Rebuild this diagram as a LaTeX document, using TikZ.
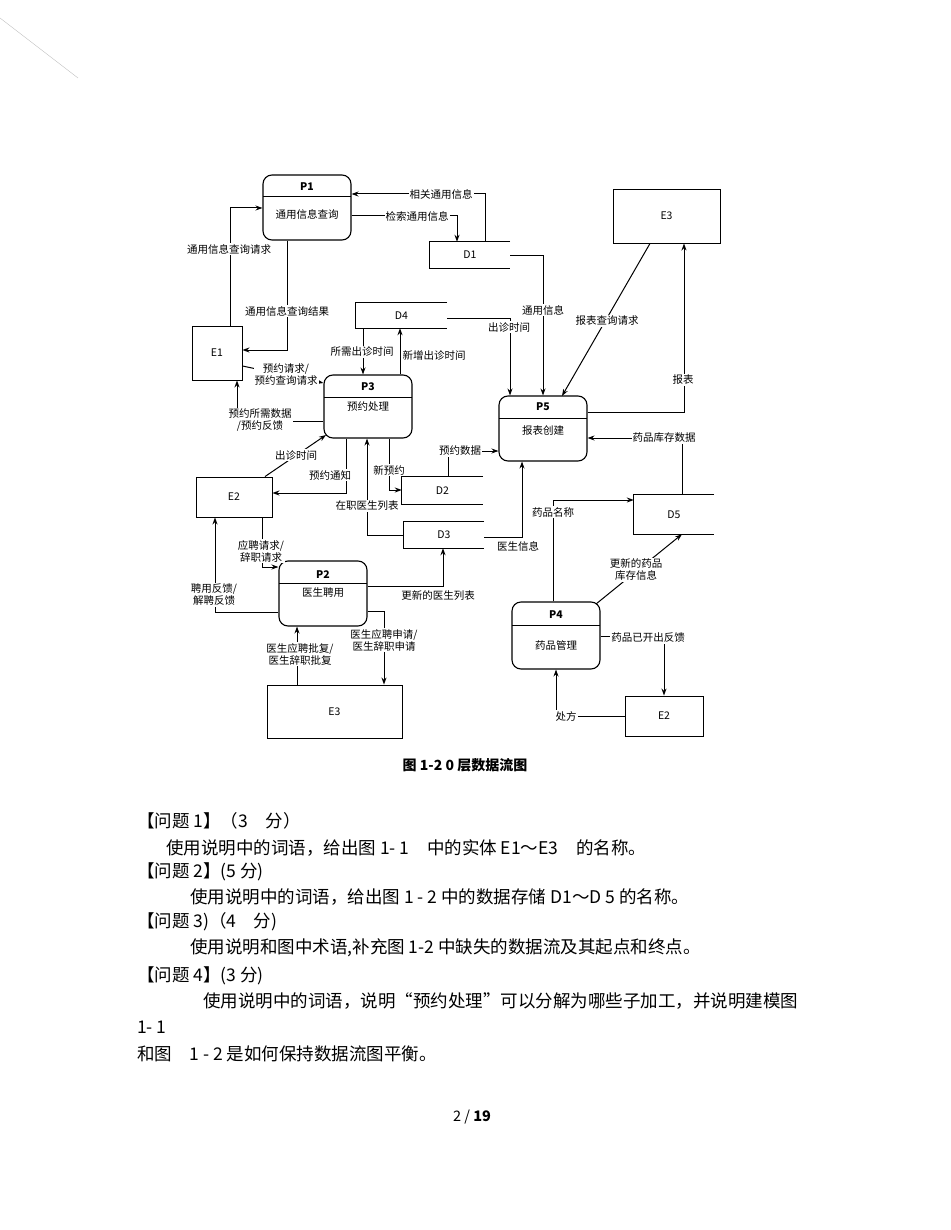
\documentclass[tikz,border=0pt]{standalone}
\usepackage{fontspec}
\setmainfont{Noto Sans CJK SC}
\usetikzlibrary{arrows.meta}
\begin{document}
\begin{tikzpicture}[x=1pt,y=-1pt,
  every node/.style={font=\fontsize{10.5}{12}\selectfont},
  ln/.style={line width=1pt},
  ar/.style={ln,-{Stealth[length=7pt,width=5pt]}},
  proc/.style={draw,line width=1.1pt,rounded corners=9pt,inner sep=0pt},
  ent/.style={draw,line width=0.9pt,inner sep=0pt},
  store/.style={inner sep=0pt},
  lab/.style={fill=white,inner sep=1pt,align=center},
  txt/.style={anchor=west,inner sep=0pt,font=\fontsize{17.5}{19}\selectfont}]
\useasboundingbox (0,0) rectangle (950,1230);
\draw[gray!50,line width=0.4pt] (0,18) -- (78,78);
% processes
\node[proc,minimum width=88,minimum height=65] (P1) at (307,207.5) {};
\draw[ln] (263,197) -- (351,197);
\node (P1t) at (307,187) {\textbf{P1}}; \node (P1n) at (307,214) {通用信息查询};
\node[proc,minimum width=88,minimum height=63] (P3) at (368,406.5) {};
\draw[ln] (324,397) -- (412,397);
\node (P3t) at (368,387) {\textbf{P3}}; \node (P3n) at (368,407) {预约处理};
\node[proc,minimum width=88,minimum height=65] (P5) at (543,428.5) {};
\draw[ln] (499,418) -- (587,418);
\node (P5t) at (543,407) {\textbf{P5}}; \node (P5n) at (543,431) {报表创建};
\node[proc,minimum width=88,minimum height=65] (P2) at (323,593.5) {};
\draw[ln] (279,583) -- (367,583);
\node (P2t) at (323,575) {\textbf{P2}}; \node (P2n) at (323,593) {医生聘用};
\node[proc,minimum width=88,minimum height=67] (P4) at (556,635.5) {};
\draw[ln] (512,625) -- (600,625);
\node (P4t) at (556,615) {\textbf{P4}}; \node (P4n) at (556,645) {药品管理};
% entities
\node[ent,minimum width=50,minimum height=54] (E1) at (217,353) {E1};
\node[ent,minimum width=107,minimum height=54] (E3a) at (666.5,216) {E3};
\node[ent,minimum width=76,minimum height=40] (E2a) at (234,497) {E2};
\node[ent,minimum width=135,minimum height=53] (E3b) at (334.5,711.5) {E3};
\node[ent,minimum width=78,minimum height=40] (E2b) at (664,716) {E2};
% stores
\foreach \n/\cx/\cy/\w/\h in {D1/470/255/80/26,D4/401.5/315.5/91/25,D2/442.5/490.5/81/27,D3/444/535/80/26,D5/674/514.5/80/39}{
  \node[store,minimum width=\w,minimum height=\h] (\n) at (\cx,\cy) {\n};
  \draw[ln] (\n.north east) -- (\n.north west) -- (\n.south west) -- (\n.south east);
}
% flows
\draw[ar] (E1.north -| 230,0) |- (P1.west |- 0,208);
\draw[ar] (P1.south -| 287,0) |- (E1.east |- 0,350);
\draw[ar] (D1.north -| 485,0) |- (P1.east |- 0,194);
\draw[ar] (P1.east |- 0,216) -| (D1.north -| 457,0);
\draw[ar] (D1.east |- 0,256) -| (P5.north -| 543,0);
\draw[ar] (D4.east |- 0,318) -| (P5.north -| 510,0);
\draw[ar] (D4.south -| 363,0) -- (P3.north -| 363,0);
\draw[ar] (P3.north -| 400,0) -- (D4.south -| 400,0);
\draw[ar] (E1.east |- 0,366) -- (P3.west |- 0,383);
\draw[ar] (P3.west |- 0,421) -| (E1.south -| 237,0);
\draw[ar] (E2a.north -| 265,0) -- (326,435);
\draw[ar] (P3.south -| 346,0) |- (E2a.east |- 0,493);
\draw[ar] (P3.south -| 389,0) |- (D2.west |- 0,490);
\draw[ar] (D3.west |- 0,535) -| (P3.south -| 367,0);
\draw[ar] (D2.north -| 448,0) |- (P5.west |- 0,451);
\draw[ar] (D3.east |- 0,537) -| (P5.south -| 522,0);
\draw[ar] (E2a.south -| 262,0) |- (P2.west |- 0,567);
\draw[ar] (P2.west |- 0,612) -| (E2a.south -| 215,0);
\draw[ar] (P2.east |- 0,586) -| (D3.south -| 443,0);
\draw[ar] (P2.east |- 0,611) -| (E3b.north -| 384,0);
\draw[ar] (E3b.north -| 297,0) -- (P2.south -| 297,0);
\draw[ar] (E3a.south -| 650,0) -- (562,396);
\draw[ar] (P5.east |- 0,412) -| (E3a.south -| 684,0);
\draw[ar] (D5.north -| 682,0) |- (P5.east |- 0,438);
\draw[ar] (P4.north -| 553,0) |- (D5.west |- 0,500);
\draw[ar] (596,604) -- (D5.south -| 682,0);
\draw[ar] (P4.east |- 0,636) -| (E2b.north -| 664,0);
\draw[ar] (E2b.west |- 0,716) -| (P4.south -| 556,0);
% labels
\node[lab] (l1) at (229,249) {通用信息查询请求};
\node[lab] (l2) at (287,311) {通用信息查询结果};
\node[lab] (l3) at (441,194) {相关通用信息};
\node[lab] (l4) at (417,216) {检索通用信息};
\node[lab] (l5) at (543,310) {通用信息};
\node[lab] (l6) at (509,327) {出诊时间};
\node[lab] (l7) at (362,352) {所需出诊时间};
\node[lab] (l8) at (434,355) {新增出诊时间};
\node[lab] (l9) at (286,375) {预约请求/\\预约查询请求};
\node[lab] (l10) at (260,420) {预约所需数据\\/预约反馈};
\node[lab] (l11) at (296,455) {出诊时间};
\node[lab] (l12) at (330,475) {预约通知};
\node[lab] (l13) at (389,470) {新预约};
\node[lab] (l14) at (367,506) {在职医生列表};
\node[lab] (l15) at (460,451) {预约数据};
\node[lab] (l16) at (518,546) {医生信息};
\node[lab] (l17) at (261,551) {应聘请求/\\辞职请求};
\node[lab] (l18) at (214,595) {聘用反馈/\\解聘反馈};
\node[lab] (l19) at (438,596) {更新的医生列表};
\node[lab] (l20) at (384,640) {医生应聘申请/\\医生辞职申请};
\node[lab] (l21) at (300,654) {医生应聘批复/\\医生辞职批复};
\node[lab] (l22) at (607,321) {报表查询请求};
\node[lab] (l23) at (683,380) {报表};
\node[lab] (l24) at (664,438) {药品库存数据};
\node[lab] (l25) at (553,512) {药品名称};
\node[lab] (l26) at (636,570) {更新的药品\\库存信息};
\node[lab] (l27) at (648,638) {药品已开出反馈};
\node[lab] (l28) at (566,716) {处方};
\node[font=\fontsize{14}{16}\selectfont] (cap) at (465,765) {\textbf{图 1-2 0 层数据流图}};
% questions
\node[txt] (q1) at (137,821) {【问题 1】（3\quad 分）};
\node[txt] (q1a) at (166,848) {使用说明中的词语，给出图 1- 1\quad 中的实体 E1～E3\quad 的名称。};
\node[txt] (q2) at (137,872) {【问题 2】(5 分)};
\node[txt] (q2a) at (190,897) {使用说明中的词语，给出图 1 - 2 中的数据存储 D1～D 5 的名称。};
\node[txt] (q3) at (137,922) {【问题 3)（4\quad 分)};
\node[txt] (q3a) at (190,948) {使用说明和图中术语,补充图 1-2 中缺失的数据流及其起点和终点。};
\node[txt] (q4) at (137,976) {【问题 4】(3 分)};
\node[txt] (q4a) at (203,1001) {使用说明中的词语，说明“预约处理”可以分解为哪些子加工，并说明建模图};
\node[txt] (q4b) at (137,1027) {1- 1};
\node[txt] (q4c) at (137,1054) {和图\quad 1 - 2 是如何保持数据流图平衡。};
\node[font=\fontsize{14.5}{16}\selectfont] (pg) at (472,1117) {2 / \textbf{19}};
\end{tikzpicture}
\end{document}
